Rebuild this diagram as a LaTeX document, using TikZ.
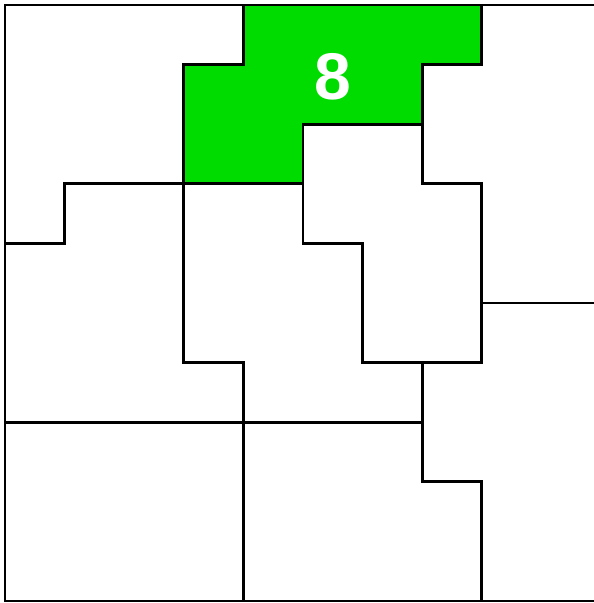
\documentclass[tikz,border=0pt]{standalone}
\usepackage{fontspec}
\setsansfont{Liberation Sans}
\definecolor{zonec}{HTML}{00DC00}
\tikzset{
  wall/.style={line width=2.8pt,line join=miter,line cap=rect,draw=black},
  zone/.style={fill=zonec},
  zlbl/.style={font=\sffamily\bfseries\fontsize{66}{70}\selectfont,text=white,inner sep=0pt},
}
\begin{document}
\begin{tikzpicture}[x=59.6pt,y=-59.6pt]
  \useasboundingbox (-0.084,-0.084) rectangle (9.883,10.034);
  % markierte Zone
  \fill[zone] (4,0) -- (8,0) -- (8,1) -- (7,1) -- (7,2) -- (5,2) -- (5,3) -- (3,3) -- (3,1) -- (4,1) -- cycle;
  \node[zlbl] (z8) at (5.5,1.2) {8};
  % Rahmen
  \draw[wall] (10,0) -- (0,0) -- (0,10) -- (10,10);
  % Grenzen
  \draw[wall] (4,0) -- (4,1) -- (3,1) -- (3,6) -- (4,6) -- (4,10);
  \draw[wall] (8,0) -- (8,1) -- (7,1) -- (7,3) -- (8,3) -- (8,6) -- (6,6) -- (6,4) -- (5,4) -- (5,2) -- (7,2);
  \draw[wall] (0,4) -- (1,4) -- (1,3) -- (5,3);
  \draw[wall] (8,5) -- (10,5);
  \draw[wall] (0,7) -- (7,7);
  \draw[wall] (7,6) -- (7,8) -- (8,8) -- (8,10);
\end{tikzpicture}
\end{document}
